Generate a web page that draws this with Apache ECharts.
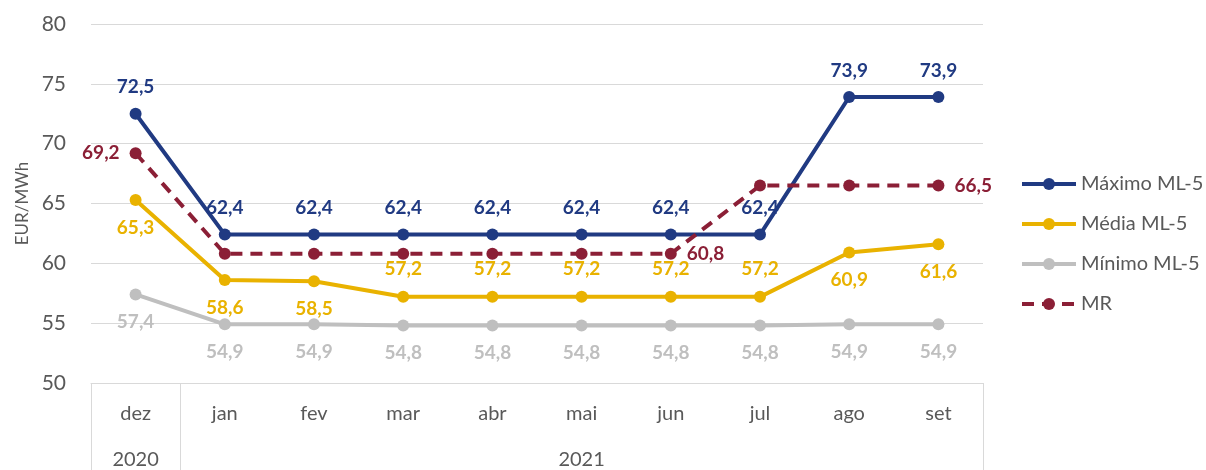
<!DOCTYPE html>
<html>
<head>
<meta charset="utf-8">
<script src="https://cdn.jsdelivr.net/npm/echarts@6/dist/echarts.min.js"></script>
<style>html,body{margin:0;padding:0;background:#fff;}#c{width:1206px;height:470px;}</style>
</head>
<body>
<div id="c"></div>
<script>
const months = ['dez','jan','fev','mar','abr','mai','jun','jul','ago','set'];
const years = ['2020','2021'];
const yearOfMonth = ['2020','2021','2021','2021','2021','2021','2021','2021','2021','2021'];
const maximo = [72.5,62.4,62.4,62.4,62.4,62.4,62.4,62.4,73.9,73.9];
const media  = [65.3,58.6,58.5,57.2,57.2,57.2,57.2,57.2,60.9,61.6];
const minimo = [57.4,54.9,54.9,54.8,54.8,54.8,54.8,54.8,54.9,54.9];
const mr     = [69.2,60.8,60.8,60.8,60.8,60.8,60.8,66.5,66.5,66.5];
const yTicks = {min:50, max:80, interval:5};

const FONT = 'Lato';
const TXT = '#595959';
const C_MAX = '#203A82', C_MED = '#E9B200', C_MIN = '#BFBFBF', C_MR = '#8B1F36';

const fmt = v => v.toFixed(1).replace('.', ',');

// year label shown at the center of each year's span of months
const yearLabelAt = {};
years.forEach(y=>{
  const idx = yearOfMonth.map((v,i)=>v===y?i:-1).filter(i=>i>=0);
  const c = (idx[0]+idx[idx.length-1])/2;
  yearLabelAt[Math.round(c)] = y;
});
// boundaries between years (tick at start of each year group)
const boundaryIdx = years.map(y=>yearOfMonth.indexOf(y));

const labelBase = {show:true, fontFamily:FONT, fontWeight:'bold', fontSize:19, formatter:p=>fmt(p.value)};

const mediaTop = [3,4,5,6,7];
const mrLabels = {0:'left', 6:'right', 9:'right'};

const chart = echarts.init(document.getElementById('c'), null, {renderer:'canvas'});
chart.setOption({
  animation:false,
  textStyle:{fontFamily:FONT},
  grid:{left:91, right:223, top:24, bottom:87, containLabel:false},
  legend:{
    orient:'vertical', left:1015, top:169,
    itemWidth:54, itemHeight:15, itemGap:20,
    lineStyle:{width:4},
    textStyle:{fontFamily:FONT, fontSize:20, color:TXT},
    data:['Máximo ML-5','Média ML-5','Mínimo ML-5','MR']
  },
  xAxis:[
    {
      type:'category', data:months, boundaryGap:true,
      axisLine:{show:true, lineStyle:{color:'#D9D9D9', width:1}},
      axisTick:{show:true, length:92, lineStyle:{color:'#D9D9D9', width:1},
        interval:(i)=>boundaryIdx.indexOf(i)>=0},
      axisLabel:{fontFamily:FONT, fontSize:20, color:TXT, margin:21, interval:0}
    },
    {
      type:'category', data:months, boundaryGap:true, position:'bottom', offset:0,
      axisLine:{show:false}, axisTick:{show:false},
      axisLabel:{fontFamily:FONT, fontSize:20, color:TXT, margin:67, interval:0,
        formatter:(v,i)=>yearLabelAt[i]||''}
    }
  ],
  yAxis:{
    type:'value', min:yTicks.min, max:yTicks.max, interval:yTicks.interval,
    name:'EUR/MWh', nameLocation:'middle', nameGap:58, nameRotate:90,
    nameTextStyle:{fontFamily:FONT, fontSize:17, color:TXT},
    axisLine:{show:false}, axisTick:{show:false},
    axisLabel:{fontFamily:FONT, fontSize:21, color:TXT, margin:25},
    splitLine:{lineStyle:{color:'#D9D9D9', width:1}}
  },
  series:[
    {
      name:'Máximo ML-5', type:'line', data:maximo, color:C_MAX,
      symbol:'circle', symbolSize:12, lineStyle:{width:4, color:C_MAX}, itemStyle:{color:C_MAX},
      label:Object.assign({}, labelBase, {position:'top', distance:11, color:C_MAX}), z:3
    },
    {
      name:'Média ML-5', type:'line', color:C_MED,
      data:media.map((v,i)=>({value:v, label:{position: mediaTop.indexOf(i)>=0?'top':'bottom'}})),
      symbol:'circle', symbolSize:12, lineStyle:{width:4, color:C_MED}, itemStyle:{color:C_MED},
      label:Object.assign({}, labelBase, {position:'bottom', distance:12, color:C_MED}), z:2
    },
    {
      name:'Mínimo ML-5', type:'line', data:minimo, color:C_MIN,
      symbol:'circle', symbolSize:12, lineStyle:{width:4, color:C_MIN}, itemStyle:{color:C_MIN},
      label:Object.assign({}, labelBase, {position:'bottom', distance:12, color:C_MIN}), z:1
    },
    {
      name:'MR', type:'line', color:C_MR,
      data:mr.map((v,i)=>({value:v, label:{show: mrLabels[i]!==undefined, position: mrLabels[i]||'right'}})),
      symbol:'circle', symbolSize:12, lineStyle:{width:4, type:[12,8], color:C_MR}, itemStyle:{color:C_MR},
      label:Object.assign({}, labelBase, {distance:10, color:C_MR}), z:4
    }
  ]
});
</script>
</body>
</html>
